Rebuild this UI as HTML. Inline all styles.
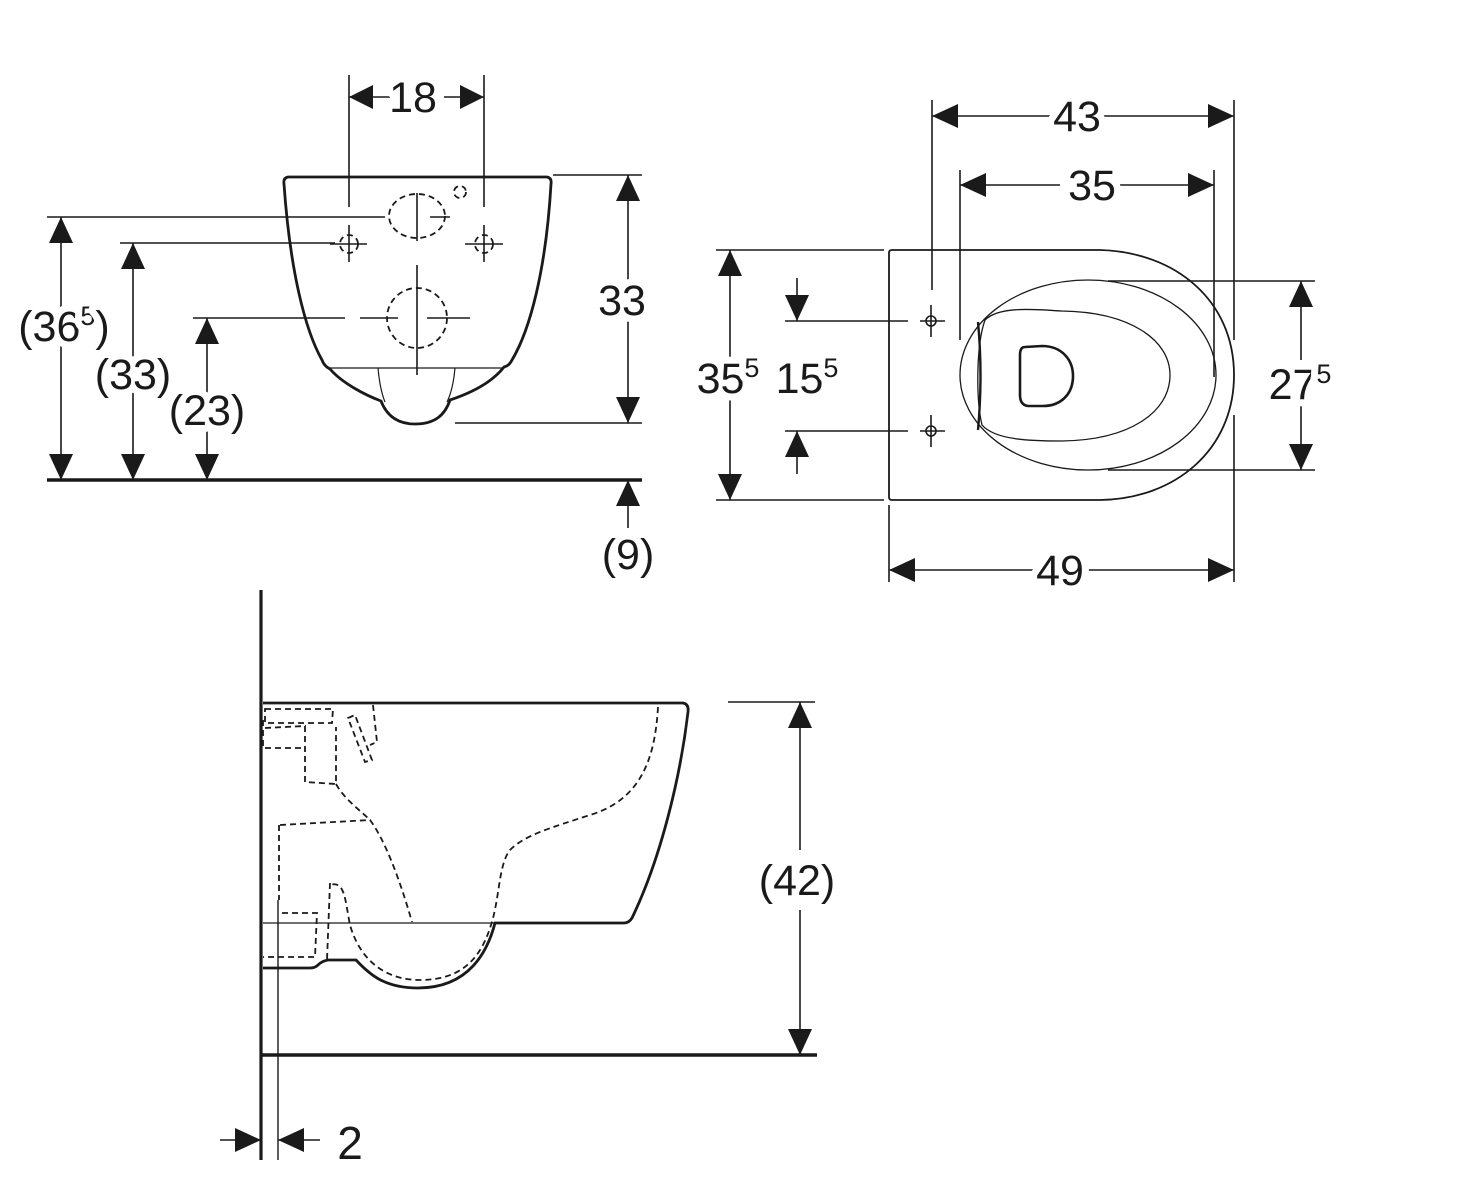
<!DOCTYPE html>
<html><head><meta charset="utf-8"><style>
html,body{margin:0;padding:0;background:#fff;}
svg{display:block;}
text{font-family:"Liberation Sans",Arial,sans-serif;font-size:43px;fill:#1a1a1a;paint-order:stroke;stroke:#fff;stroke-width:14px;stroke-linejoin:round;}
tspan.s{font-size:27px;}
</style></head><body>
<svg width="1462" height="1200" viewBox="0 0 1462 1200" xmlns="http://www.w3.org/2000/svg">
<defs>
<marker id="a" viewBox="0 0 24 24" markerWidth="24" markerHeight="24" refX="24" refY="12" orient="auto" markerUnits="userSpaceOnUse">
<path d="M0,0 L24,12 L0,24 z" fill="#1a1a1a"/>
</marker>
<marker id="b" viewBox="0 0 26 26" markerWidth="26" markerHeight="26" refX="26" refY="13" orient="auto" markerUnits="userSpaceOnUse">
<path d="M0,1 L26,13 L0,25 z" fill="#1a1a1a"/>
</marker>
</defs>
<g fill="none" stroke="#1a1a1a" stroke-width="1.6">
<path d="M288,177 L547,177 Q552,178 551,184 C546,270 530,330 512,360 Q509,366 504,367 C490,385 465,395 450,400 C445,415 435,424 415,424 C396,424 386,414 381,401 C365,395 342,383 330,369 Q324,366 322,360 C305,330 290,270 284,184 Q283,178 288,177 Z" stroke-width="2.8"/>
<line x1="330" y1="368" x2="504" y2="368" stroke-width="1.2"/>
<path d="M378,368 Q380,390 385,402" stroke-width="1.2"/>
<path d="M455,368 Q453,390 447,402" stroke-width="1.2"/>
<g stroke-dasharray="6,4" stroke-width="1.8">
<ellipse cx="417" cy="216" rx="28" ry="22"/>
<circle cx="460" cy="192" r="6"/>
<circle cx="349" cy="244" r="9"/>
<circle cx="484" cy="244" r="9"/>
<circle cx="417" cy="318" r="30"/>
</g>
<line x1="417" y1="193" x2="417" y2="241"/>
<line x1="430" y1="217" x2="450" y2="217"/>
<line x1="330" y1="244" x2="367" y2="244"/>
<line x1="349" y1="225" x2="349" y2="262"/>
<line x1="465" y1="244" x2="503" y2="244"/>
<line x1="484" y1="225" x2="484" y2="262"/>
<line x1="417" y1="265" x2="417" y2="375"/>
<line x1="360" y1="318" x2="398" y2="318"/>
<line x1="427" y1="318" x2="470" y2="318"/>
<line x1="349" y1="75" x2="349" y2="207"/>
<line x1="484" y1="75" x2="484" y2="207"/>
<line x1="390" y1="97" x2="349" y2="97" marker-end="url(#a)"/>
<line x1="444" y1="97" x2="484" y2="97" marker-end="url(#a)"/>
<line x1="553" y1="175" x2="642" y2="175"/>
<line x1="455" y1="423" x2="642" y2="423"/>
<line x1="628" y1="300" x2="628" y2="175" marker-end="url(#b)"/>
<line x1="628" y1="300" x2="628" y2="423" marker-end="url(#b)"/>
<line x1="47" y1="217" x2="385" y2="217"/>
<line x1="120" y1="243" x2="335" y2="243"/>
<line x1="193" y1="318" x2="345" y2="318"/>
<line x1="61" y1="330" x2="61" y2="217" marker-end="url(#b)"/>
<line x1="61" y1="330" x2="61" y2="480" marker-end="url(#b)"/>
<line x1="133" y1="370" x2="133" y2="243" marker-end="url(#b)"/>
<line x1="133" y1="370" x2="133" y2="480" marker-end="url(#b)"/>
<line x1="207" y1="400" x2="207" y2="318" marker-end="url(#b)"/>
<line x1="207" y1="400" x2="207" y2="480" marker-end="url(#b)"/>
<line x1="47" y1="480" x2="642" y2="480" stroke-width="3.5"/>
<line x1="628" y1="528" x2="628" y2="480" marker-end="url(#b)"/>

<path d="M889,253 Q889,250 892,250 L1100,250 C1175,252 1234,300 1234,375 C1234,450 1175,499 1100,500 L892,500 Q889,500 889,497 Z" stroke-width="1.8"/>
<ellipse cx="1088" cy="375" rx="128" ry="95" stroke-width="1.3"/>
<path d="M985,320 C1000,305 1040,310 1062,311 C1130,312 1170,340 1170,375 C1170,412 1130,440 1062,441 C1030,441 995,440 982,425 C976,400 976,345 985,320 Z" stroke-width="1.3"/>
<path d="M978,322 Q983,375 978,430" stroke-width="2.4"/>
<path d="M1025,347 L1042,346 C1062,346 1073,360 1073,376 C1073,395 1060,406 1043,406 L1028,406 Q1020,405 1020,395 L1020,355 Q1020,347 1025,347 Z" stroke-width="2.6"/>
<circle cx="931" cy="321" r="5"/><circle cx="931" cy="431" r="5"/>
<line x1="920" y1="321" x2="945" y2="321"/><line x1="931" y1="305" x2="931" y2="337"/>
<line x1="920" y1="431" x2="945" y2="431"/><line x1="931" y1="415" x2="931" y2="447"/>
<line x1="785" y1="321" x2="908" y2="321"/>
<line x1="785" y1="431" x2="908" y2="431"/>
<line x1="797" y1="278" x2="797" y2="321" marker-end="url(#b)"/>
<line x1="797" y1="474" x2="797" y2="431" marker-end="url(#b)"/>
<line x1="716" y1="250" x2="884" y2="250"/>
<line x1="716" y1="500" x2="884" y2="500"/>
<line x1="730" y1="370" x2="730" y2="250" marker-end="url(#b)"/>
<line x1="730" y1="370" x2="730" y2="500" marker-end="url(#b)"/>
<line x1="932" y1="100" x2="932" y2="290"/>
<line x1="1234" y1="100" x2="1234" y2="340"/>
<line x1="1234" y1="415" x2="1234" y2="582"/>
<line x1="960" y1="170" x2="960" y2="340"/>
<line x1="1214" y1="170" x2="1214" y2="377"/>
<line x1="889" y1="505" x2="889" y2="582"/>
<line x1="1060" y1="116" x2="932" y2="116" marker-end="url(#b)"/>
<line x1="1100" y1="116" x2="1234" y2="116" marker-end="url(#b)"/>
<line x1="1060" y1="185" x2="960" y2="185" marker-end="url(#b)"/>
<line x1="1120" y1="185" x2="1214" y2="185" marker-end="url(#b)"/>
<line x1="1040" y1="570" x2="889" y2="570" marker-end="url(#b)"/>
<line x1="1080" y1="570" x2="1234" y2="570" marker-end="url(#b)"/>
<line x1="1108" y1="281" x2="1315" y2="281"/>
<line x1="1108" y1="470" x2="1315" y2="470"/>
<line x1="1301" y1="360" x2="1301" y2="281" marker-end="url(#b)"/>
<line x1="1301" y1="400" x2="1301" y2="470" marker-end="url(#b)"/>

<line x1="261" y1="590" x2="261" y2="1160" stroke-width="3.2"/>
<line x1="278" y1="900" x2="278" y2="1160" stroke-width="1.4"/>
<line x1="261" y1="1055" x2="817" y2="1055" stroke-width="3.5"/>
<path d="M263,703 L683,703 Q689,704 688,712 C680,780 660,860 632,918 Q629,923 624,923 L495,923 C488,950 470,988 418,988 C385,988 370,975 356,960 L328,960 Q322,961 318,965 Q315,968 310,968 L263,968" stroke-width="2.8"/>
<line x1="263" y1="923" x2="495" y2="923" stroke-width="1.2"/>
<g stroke-dasharray="6,4" stroke-width="1.8">
<path d="M658,707 C655,760 640,800 590,815 C550,828 525,835 510,850 C498,865 500,900 490,928 C478,965 455,980 420,980 C385,980 360,960 350,925 C345,900 345,880 330,885 L330,885"/>
<path d="M330,883 L327,960"/>
<path d="M280,825 L370,820 C385,840 400,880 412,922"/>
<path d="M279,825 L279,900"/>
<path d="M282,913 L317,913 L315,957 L263,957"/>
<path d="M265,709 L333,709 L332,723 L265,723 Z"/>
<path d="M265,728 L305,726 L305,782 L336,784 L336,727"/>
<path d="M336,784 C345,800 360,810 370,820"/>
<path d="M348,718 L355,715 L372,760 L365,762 Z"/>
<path d="M373,705 L377,742 L370,745"/>
<path d="M263,720 L263,748 L305,748"/>
</g>
<line x1="728" y1="702" x2="815" y2="702"/>
<line x1="800" y1="850" x2="800" y2="702" marker-end="url(#b)"/>
<line x1="800" y1="910" x2="800" y2="1055" marker-end="url(#b)"/>
<line x1="220" y1="1140" x2="261" y2="1140" marker-end="url(#b)"/>
<line x1="320" y1="1140" x2="278" y2="1140" marker-end="url(#b)"/>
</g>
<g text-anchor="middle">
<text x="413" y="112">18</text>
<text x="622" y="315">33</text>
<text x="64" y="341">(36<tspan class="s" dy="-16">5</tspan><tspan dy="16">)</tspan></text>
<text x="133" y="389">(33)</text>
<text x="207" y="425">(23)</text>
<text x="628" y="569">(9)</text>
<text x="1077" y="131">43</text>
<text x="1092" y="200">35</text>
<text x="1060" y="585">49</text>
<text x="728" y="393">35<tspan class="s" dy="-16">5</tspan></text>
<text x="807" y="393">15<tspan class="s" dy="-16">5</tspan></text>
<text x="1300" y="399">27<tspan class="s" dy="-16">5</tspan></text>
<text x="797" y="895">(42)</text>
<text x="350" y="1159" style="font-size:46px">2</text>
</g>
</svg>
</body></html>
